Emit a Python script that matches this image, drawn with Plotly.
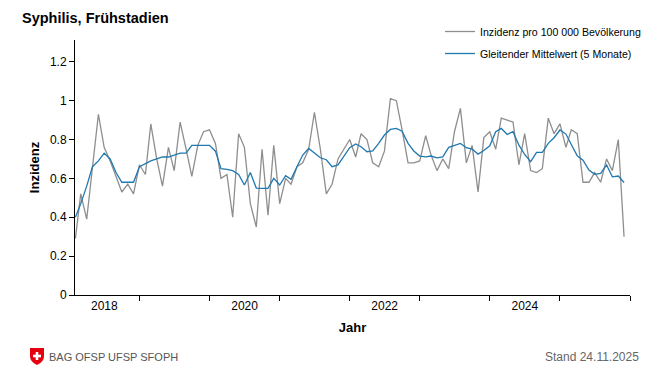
import pandas as pd
import plotly.graph_objects as go

# Monthly values Jan 2018 - Nov 2025 (plotted at month end)
months = pd.date_range("2018-02-01", periods=95, freq="MS")

incidence = [
    0.29, 0.52, 0.39, 0.66, 0.93, 0.76, 0.69, 0.61, 0.53, 0.57, 0.52, 0.67,
    0.62, 0.88, 0.70, 0.56, 0.76, 0.64, 0.89, 0.75, 0.61, 0.77, 0.84, 0.85,
    0.78, 0.60, 0.62, 0.40, 0.83, 0.76, 0.47, 0.35, 0.75, 0.41, 0.77, 0.47,
    0.60, 0.57, 0.66, 0.68, 0.75, 0.94, 0.75, 0.52, 0.57, 0.70, 0.75, 0.80,
    0.71, 0.83, 0.80, 0.68, 0.66, 0.74, 1.01, 1.00, 0.85, 0.68, 0.68, 0.69,
    0.82, 0.72, 0.64, 0.70, 0.65, 0.84, 0.96, 0.68, 0.77, 0.53, 0.81, 0.84,
    0.75, 0.91, 0.90, 0.89, 0.67, 0.83, 0.64, 0.63, 0.65, 0.91, 0.83, 0.88,
    0.76, 0.85, 0.83, 0.58, 0.58, 0.63, 0.58, 0.70, 0.64, 0.80, 0.30,
]

moving_avg = [
    0.40, 0.47, 0.56, 0.66, 0.69, 0.73, 0.70, 0.63, 0.58, 0.58, 0.58, 0.66,
    0.675, 0.69, 0.70, 0.71, 0.71, 0.72, 0.73, 0.73, 0.77, 0.77, 0.77, 0.77,
    0.74, 0.65, 0.646, 0.64, 0.62, 0.566, 0.63, 0.55, 0.549, 0.549, 0.60, 0.566,
    0.614, 0.595, 0.66, 0.72, 0.754, 0.729, 0.706, 0.696, 0.66, 0.669, 0.711, 0.758,
    0.777, 0.763, 0.737, 0.741, 0.78, 0.823, 0.852, 0.857, 0.843, 0.78, 0.741, 0.715,
    0.711, 0.715, 0.706, 0.711, 0.76, 0.768, 0.78, 0.758, 0.751, 0.725, 0.743, 0.768,
    0.84, 0.857, 0.826, 0.84, 0.771, 0.723, 0.686, 0.734, 0.734, 0.78, 0.809, 0.849,
    0.828, 0.774, 0.716, 0.694, 0.643, 0.621, 0.626, 0.669, 0.608, 0.612, 0.579,
]

year_labels = ["2018", "2020", "2022", "2024"]
y_ticks = [0, 0.2, 0.4, 0.6, 0.8, 1.0, 1.2]
y_ticktext = ["0", "0.2", "0.4", "0.6", "0.8", "1", "1.2"]

FONT = "Liberation Sans, Arial, sans-serif"
GRAY = "#8e8e8e"
BLUE = "#1f78b0"

fig = go.Figure()
fig.add_trace(go.Scatter(
    x=months, y=incidence, mode="lines", name="Inzidenz pro 100 000 Bevölkerung",
    line=dict(color=GRAY, width=1.3), legendgroup="a",
))
fig.add_trace(go.Scatter(
    x=months, y=moving_avg, mode="lines", name="Gleitender Mittelwert (5 Monate)",
    line=dict(color=BLUE, width=1.3), legendgroup="b",
))

fig.update_layout(
    width=650, height=368,
    margin=dict(l=75, r=20, t=40, b=73, autoexpand=False),
    paper_bgcolor="white", plot_bgcolor="white",
    font=dict(family=FONT, size=12, color="black"),
    title=dict(text="<b>Syphilis, Frühstadien</b>", x=22 / 650, xanchor="left",
               y=1 - 18 / 368, yanchor="middle", font=dict(size=14.5, color="black")),
    showlegend=True,
    legend=dict(xref="container", yref="container",
                x=646 / 650, xanchor="right", y=1 - 17 / 368, yanchor="top",
                font=dict(size=10.6, color="black"), bgcolor="rgba(0,0,0,0)",
                itemwidth=30, tracegroupgap=3, traceorder="grouped"),
    xaxis=dict(
        type="date",
        range=["2018-01-30", "2026-01-01"],
        showline=True, linecolor="black", linewidth=1,
        showgrid=False, zeroline=False,
        tickvals=[f"{y}-07-02" for y in year_labels],
        ticktext=year_labels,
        ticks="", ticklen=0,
        tickfont=dict(size=12),
        minor=dict(ticks="outside", ticklen=5, tickcolor="black",
                   dtick="M12", tick0="2019-01-01", showgrid=False),
        title=dict(text="<b>Jahr</b>", font=dict(size=13), standoff=10),
    ),
    yaxis=dict(
        range=[0, 1.312],
        showline=True, linecolor="black", linewidth=1,
        showgrid=False, zeroline=False,
        tickvals=y_ticks, ticktext=y_ticktext,
        ticks="outside", ticklen=5, tickcolor="black",
        tickfont=dict(size=12),
        title=dict(text="<b>Inzidenz</b>", font=dict(size=13), standoff=7),
    ),
)

# footer
fig.add_annotation(text="BAG OFSP UFSP SFOPH", xref="paper", yref="paper",
                   x=-28 / 555, y=-62 / 255, xanchor="left", yanchor="middle",
                   showarrow=False, font=dict(size=11, color="#555555"))
fig.add_annotation(text="Stand 24.11.2025", xref="paper", yref="paper",
                   x=(641 - 75) / 555, y=-62 / 255, xanchor="right", yanchor="middle",
                   showarrow=False, font=dict(size=12, color="#666666"))

# Swiss logo (shield + cross)
fig.add_shape(type="path", xref="paper", yref="paper", xsizemode="pixel", ysizemode="pixel",
              xanchor=0, yanchor=0,
              path="M -45,-53 L -31,-53 L -31,-61 Q -31,-67 -38,-70 Q -45,-67 -45,-61 Z",
              fillcolor="#e3000f", line=dict(width=0))
fig.add_shape(type="rect", xref="paper", yref="paper", xsizemode="pixel", ysizemode="pixel",
              xanchor=0, yanchor=0, x0=-39.3, x1=-36.7, y0=-57, y1=-65,
              fillcolor="white", line=dict(width=0))
fig.add_shape(type="rect", xref="paper", yref="paper", xsizemode="pixel", ysizemode="pixel",
              xanchor=0, yanchor=0, x0=-42, x1=-34, y0=-59.7, y1=-62.3,
              fillcolor="white", line=dict(width=0))

fig.write_html("out.html", config={"displayModeBar": False},
               post_script="document.body.style.margin='0';")
